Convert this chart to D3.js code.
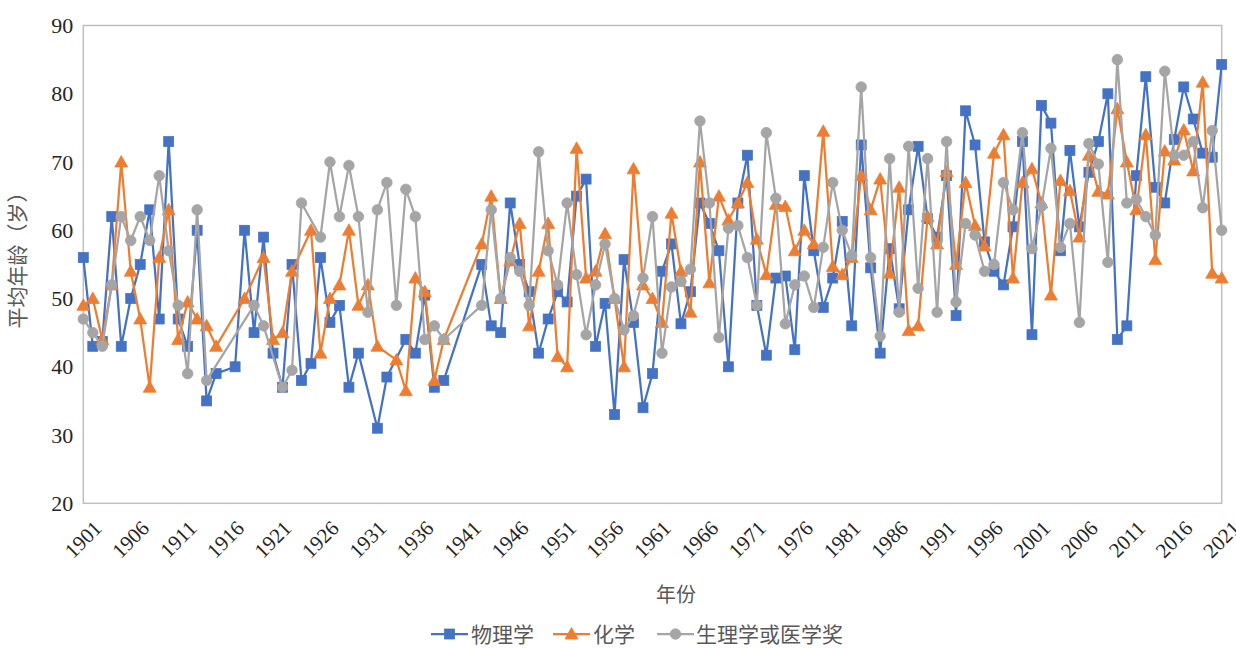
<!DOCTYPE html>
<html>
<head>
<meta charset="utf-8">
<script src="https://cdn.jsdelivr.net/npm/d3@7"></script>
<style>
  html, body { margin: 0; padding: 0; background: #ffffff; }
  svg { display: block; }
</style>
</head>
<body>
<svg id="chart" width="1236" height="648"></svg>
<script>
// ---------------- DATA ----------------
const firstYear = 1901;
const lastYear = 2021;
const years = d3.range(firstYear, lastYear + 1);           // category axis 1901..2021
const xTickLabels = [1901,1906,1911,1916,1921,1926,1931,1936,1941,1946,1951,1956,1961,1966,1971,1976,1981,1986,1991,1996,2001,2006,2011,2016,2021];
const yTickLabels = [20,30,40,50,60,70,80,90];
const seriesNames = ["物理学", "化学", "生理学或医学奖"];

// 物理学 (1901..2021), null = no prize awarded
const physics = [
  56, 43, 43.7, 62, 43, 50, 55, 63, 47, 73,            // 1901-1910
  47, 43, 60, 35, 39, null, 40, 60, 45, 59,            // 1911-1920
  42, 37, 55, 38, 40.5, 56, 46.5, 49, 37, 42,          // 1921-1930
  null, 31, 38.5, null, 44, 42, 50.5, 37, 38, null,    // 1931-1940
  null, null, 55, 46, 45, 64, 55, 51, 42, 47,          // 1941-1950
  51, 49.5, 65, 67.5, 43, 49.3, 33, 55.7, 46.5, 34,    // 1951-1960
  39, 54, 58, 46.3, 51, 64, 61, 57, 40, 64,            // 1961-1970
  71, 49, 41.7, 53, 53.3, 42.5, 68, 57, 48.7, 53,      // 1971-1980
  61.3, 46, 72.5, 54.5, 42, 57.3, 48.5, 63, 72.3, 61.7,// 1981-1990
  59, 68, 47.5, 77.5, 72.5, 58.3, 54, 52, 60.5, 73,    // 1991-2000
  44.7, 78.3, 75.7, 57, 71.7, 60.5, 68.5, 73, 80, 44,  // 2001-2010
  46, 68, 82.5, 66.3, 64, 73.3, 81, 76.3, 71.3, 70.7,  // 2011-2020
  84.3                                                 // 2021
];

// 化学
const chemistry = [
  49, 50, 44, 52, 70, 54, 47, 37, 56, 63,              // 1901-1910
  44, 49.5, 47, 46, 43, null, null, 50, null, 56,      // 1911-1920
  44, 45, 54, null, 60, 42, 50, 52, 60, 49,            // 1921-1930
  52, 43, null, 41, 36.5, 53, 51, 38, 44, null,        // 1931-1940
  null, null, 58, 65, 50, 55.5, 61, 46, 54, 61,        // 1941-1950
  41.5, 40, 72, 53, 54, 59.5, 50, 40, 69, 52,          // 1951-1960
  50, 46.5, 62.5, 54, 48, 70, 52.3, 65, 61.5, 64,      // 1961-1970
  67, 58.7, 53.5, 63.8, 63.5, 57, 60, 58, 74.5, 54.7,  // 1971-1980
  53.5, 56, 68, 63, 67.5, 53.7, 66.3, 45.3, 46, 62,    // 1981-1990
  58, 68.6, 55, 67, 60.7, 57.7, 71.3, 74, 53, 67,      // 1991-2000
  69, 64, 50.5, 67.3, 65.8, 59, 71, 65.7, 65.3, 77.8,  // 2001-2010
  70, 63, 74, 55.7, 71.6, 70.3, 74.7, 68.7, 81.7, 53.7,// 2011-2020
  53                                                   // 2021
];

// 生理学或医学奖
const medicine = [
  47, 45, 43, 52, 62, 58.5, 62, 58.5, 68, 57,          // 1901-1910
  49, 39, 63, 38, null, null, null, null, 49, 46,      // 1911-1920
  null, 37, 39.5, 64, null, 59, 70, 62, 69.5, 62,      // 1921-1930
  48, 63, 67, 49, 66, 62, 44, 46, 44, null,            // 1931-1940
  null, null, 49, 63, 50, 56, 54, 49, 71.5, 57,        // 1941-1950
  52, 64, 53.5, 44.7, 52, 58, 50, 45.4, 47.5, 53,      // 1951-1960
  62, 42, 51.7, 52.5, 54.3, 76, 64, 44.3, 60.3, 60.7,  // 1961-1970
  56, 49, 74.3, 64.7, 46.3, 52, 53.3, 48.7, 57.5, 67,  // 1971-1980
  60, 56.3, 81, 56, 44.5, 70.5, 48, 72.3, 51.5, 70.5,  // 1981-1990
  48, 73, 49.5, 61, 59.3, 54, 55, 67, 63, 74.3,        // 1991-2000
  57.3, 63.5, 72, 57.5, 61, 46.5, 72.7, 69.7, 55.3, 85,// 2001-2010
  64, 64.5, 62, 59.3, 83.3, 71, 71, 73, 63.3, 74.6,    // 2011-2020
  60                                                   // 2021
];

const seriesValues = [physics, chemistry, medicine];
const seriesColors = ["#4472C4", "#ED7D31", "#A5A5A5"];
const seriesShapes = ["square", "triangle", "circle"];

// ---------------- CHART ----------------
const svg = d3.select("#chart");
svg.append("rect").attr("width", 1236).attr("height", 648).attr("fill", "#ffffff");

const plotLeft = 83.3, plotRight = 1221.7, plotTop = 25.5, plotBottom = 503.3;
const x = d3.scaleLinear().domain([firstYear, lastYear]).range([plotLeft, plotRight]);
const y = d3.scaleLinear().domain([20, 90]).range([plotBottom, plotTop]);

const serifFam = '"Liberation Serif"';
const cjkFam = '"Noto Sans CJK SC"';

// plot border
svg.append("rect")
  .attr("x", plotLeft).attr("y", plotTop)
  .attr("width", plotRight - plotLeft).attr("height", plotBottom - plotTop)
  .attr("fill", "none").attr("stroke", "#BFBFBF").attr("stroke-width", 1.5);

// Y axis
const yAxis = svg.append("g")
  .attr("transform", `translate(${plotLeft},0)`)
  .call(d3.axisLeft(y).tickValues(yTickLabels).tickSize(0).tickPadding(10).tickFormat(d3.format("d")));
yAxis.attr("font-family", "Liberation Serif").attr("font-size", 22);
yAxis.select(".domain").remove();
yAxis.selectAll("text")
  .style("font-family", serifFam)
  .style("font-size", "22px").attr("fill", "#262626");

// X axis
const xAxis = svg.append("g")
  .attr("transform", `translate(0,${plotBottom})`)
  .call(d3.axisBottom(x).tickValues(xTickLabels).tickSize(0).tickFormat(d3.format("d")));
xAxis.attr("font-family", "Liberation Serif").attr("font-size", 21);
xAxis.select(".domain").remove();
xAxis.selectAll("text")
  .style("font-family", serifFam)
  .style("font-size", "21px").attr("fill", "#262626")
  .attr("text-anchor", "end")
  .attr("x", 0).attr("y", 0).attr("dy", "0.35em")
  .attr("transform", "translate(14,21) rotate(-45)");

// Axis titles
svg.append("text")
  .style("font-family", cjkFam)
  .attr("x", 676).attr("y", 602)
  .attr("text-anchor", "middle")
  .attr("font-size", 20).attr("fill", "#595959")
  .text("年份");

svg.append("text")
  .style("font-family", cjkFam)
  .attr("transform", "translate(25,255) rotate(-90)")
  .attr("text-anchor", "middle")
  .attr("font-size", 21).attr("fill", "#595959")
  .text("平均年龄（岁）");

// Marker generator
function drawMarker(g, shape, color, cx, cy) {
  if (shape === "square") {
    g.append("rect").attr("x", cx - 5).attr("y", cy - 5).attr("width", 10).attr("height", 10)
      .attr("fill", color).attr("stroke", color).attr("stroke-width", 0.75);
  } else if (shape === "triangle") {
    g.append("path")
      .attr("d", `M${cx},${cy - 6.5}L${cx + 6.5},${cy + 5}L${cx - 6.5},${cy + 5}Z`)
      .attr("fill", color).attr("stroke", color).attr("stroke-width", 0.75);
  } else {
    g.append("circle").attr("cx", cx).attr("cy", cy).attr("r", 5.3)
      .attr("fill", color).attr("stroke", color).attr("stroke-width", 0.75);
  }
}

// Series
const line = d3.line().x(d => x(d.year)).y(d => y(d.value));
seriesValues.forEach((vals, i) => {
  const pts = years.map((yr, j) => ({ year: yr, value: vals[j] })).filter(d => d.value != null);
  const g = svg.append("g");
  g.append("path").datum(pts)
    .attr("d", line)
    .attr("fill", "none").attr("stroke", seriesColors[i])
    .attr("stroke-width", 2.25).attr("stroke-linejoin", "round");
  pts.forEach(d => drawMarker(g, seriesShapes[i], seriesColors[i], x(d.year), y(d.value)));
});

// Legend
const legendItems = [
  { lx: 431, tx: 471 },
  { lx: 553, tx: 593 },
  { lx: 657, tx: 696 }
];
const ly = 634;
legendItems.forEach((it, i) => {
  const g = svg.append("g");
  g.append("line").attr("x1", it.lx).attr("x2", it.lx + 37).attr("y1", ly).attr("y2", ly)
    .attr("stroke", seriesColors[i]).attr("stroke-width", 2.25);
  drawMarker(g, seriesShapes[i], seriesColors[i], it.lx + 18.5, ly);
  g.append("text").style("font-family", cjkFam).attr("x", it.tx).attr("y", ly).attr("dy", "0.36em")
    .attr("font-size", 21).attr("fill", "#595959")
    .text(seriesNames[i]);
});
</script>
</body>
</html>
